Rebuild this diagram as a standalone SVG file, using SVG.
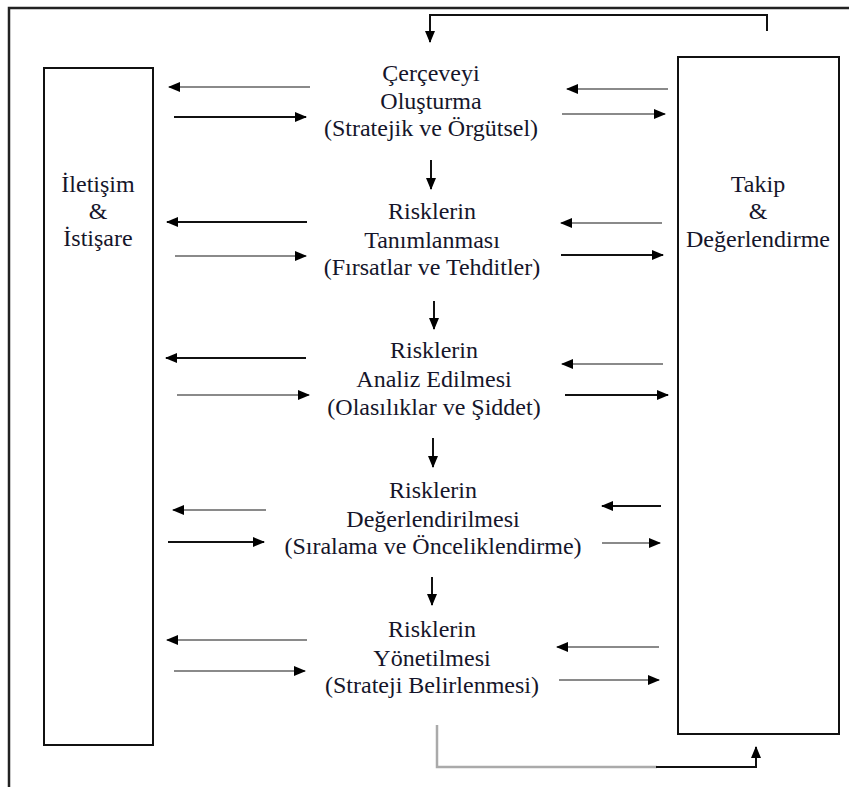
<svg xmlns="http://www.w3.org/2000/svg" width="849" height="787" viewBox="0 0 849 787">
<defs>
<marker id="ah" markerUnits="userSpaceOnUse" markerWidth="12" markerHeight="10" viewBox="0 0 12 10" refX="11" refY="5" orient="auto">
<path d="M0,0 L12,5 L0,10 z" fill="#000"/>
</marker>
</defs>
<style>
.t{font-family:'Liberation Serif','Times New Roman',serif;font-size:24px;fill:#15152a;text-anchor:middle}
.box{fill:none;stroke:#111;stroke-width:2}
.k{fill:none;stroke:#111;stroke-width:2}
.g{fill:none;stroke:#8a8a8a;stroke-width:2}
.lg{fill:none;stroke:#aaaaaa;stroke-width:2.5}
.a{marker-end:url(#ah)}
</style>
<rect width="849" height="787" fill="#fff"/>
<path d="M9,787 V8 H849" fill="none" stroke="#222" stroke-width="2.5"/>

<g id="iletisim" class="t">
<rect class="box" x="44" y="68" width="109" height="677"/>
<text x="98" y="192">İletişim</text>
<text x="98" y="219">&amp;</text>
<text x="98" y="246">İstişare</text>
</g>

<g id="takip" class="t">
<rect class="box" x="678" y="57" width="161" height="677"/>
<text x="758" y="192">Takip</text>
<text x="758" y="219">&amp;</text>
<text x="758" y="247">Değerlendirme</text>
</g>

<g id="cerceve" class="t">
<text x="431" y="81">Çerçeveyi</text>
<text x="431" y="109">Oluşturma</text>
<text x="431" y="136">(Stratejik ve Örgütsel)</text>
</g>

<g id="tanimlanma" class="t">
<text x="432" y="219">Risklerin</text>
<text x="432" y="248">Tanımlanması</text>
<text x="432" y="275">(Fırsatlar ve Tehditler)</text>
</g>

<g id="analiz" class="t">
<text x="434" y="358">Risklerin</text>
<text x="434" y="387">Analiz Edilmesi</text>
<text x="434" y="415">(Olasılıklar ve Şiddet)</text>
</g>

<g id="degerlendirme" class="t">
<text x="433" y="498">Risklerin</text>
<text x="433" y="527">Değerlendirilmesi</text>
<text x="433" y="554">(Sıralama ve Önceliklendirme)</text>
</g>

<g id="yonetim" class="t">
<text x="432" y="637">Risklerin</text>
<text x="432" y="666">Yönetilmesi</text>
<text x="432" y="693">(Strateji Belirlenmesi)</text>
</g>

<g id="connectors">
<path class="k a" d="M767,31 V15 H430 V42"/>
<path class="lg" d="M437,725 V767 H657"/>
<path class="k a" d="M656,767 H756 V747"/>
<path class="k a" d="M431,160 V189"/>
<path class="k a" d="M434,301 V329"/>
<path class="k a" d="M433,438 V467"/>
<path class="k a" d="M432,577 V605"/>
<path class="g a" d="M310,87 H169"/>
<path class="k a" d="M174,117 H306"/>
<path class="g a" d="M668,89 H567"/>
<path class="g a" d="M562,114 H665"/>
<path class="k a" d="M307,222 H167"/>
<path class="g a" d="M175,256 H306"/>
<path class="g a" d="M662,223 H561"/>
<path class="k a" d="M561,255 H663"/>
<path class="k a" d="M306,358 H166"/>
<path class="g a" d="M177,395 H309"/>
<path class="g a" d="M663,364 H562"/>
<path class="k a" d="M565,395 H668"/>
<path class="g a" d="M266,510 H173"/>
<path class="k a" d="M168,542 H264"/>
<path class="k a" d="M661,506 H602"/>
<path class="g a" d="M602,543 H660"/>
<path class="g a" d="M307,640 H167"/>
<path class="g a" d="M174,671 H305"/>
<path class="g a" d="M659,647 H557"/>
<path class="g a" d="M559,680 H659"/>
</g>
</svg>
